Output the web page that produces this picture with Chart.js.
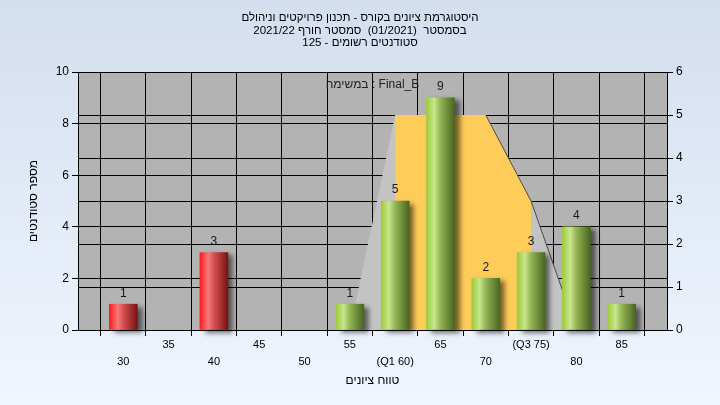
<!DOCTYPE html>
<html><head><meta charset="utf-8">
<script src="https://cdn.jsdelivr.net/npm/chart.js@4/dist/chart.umd.min.js"></script>
<style>html,body{margin:0;padding:0;background:#e6edf8}#wrap{width:720px;height:405px;position:relative}</style>
</head><body><div id="wrap"><canvas id="c" width="720" height="405"></canvas></div>
<script>
// ---- data ----
const categories = [30, 35, 40, 45, 50, 55, 60, 65, 70, 75, 80, 85];
const counts     = [1, 0, 3, 0, 0, 1, 5, 9, 2, 3, 4, 1];
const axisEnds   = [25, 90];
const specialTicks = {60: '(Q1 60)', 75: '(Q3 75)'};
const curveCats  = [55, 60, 65, 70, 75, 80];
const curveVals  = [0, 5, 5, 5, 3, 0];
const q1 = 60, q3 = 75;
const passMark = 55;
const titleLines = [
  'היסטוגרמת ציונים בקורס - תכנון פרויקטים וניהולם',
  'בסמסטר  (01/2021)  סמסטר חורף 2021/22',
  'סטודנטים רשומים - 125'
];
const xTitle = 'טווח ציונים';
const yTitle = 'מספר סטודנטים';
const legendText = 'במשימה : Final_B';

// ---- build ----
const axisVals = [axisEnds[0], ...categories, axisEnds[1]];
const labels = axisVals.map(String);
const barData = axisVals.map(v => { const i = categories.indexOf(v); return (i >= 0 && counts[i] > 0) ? counts[i] : null; });
const curveData = axisVals.map(v => { const i = curveCats.indexOf(v); return i >= 0 ? curveVals[i] : null; });
const iqrData = axisVals.map((v, k) => (v >= q1 && v <= q3) ? curveData[k] : null);

const FONT = "'Liberation Sans', Arial, sans-serif";
const BARW = 28;

function makeGrad(c, x, idx) {
  const g = c.createLinearGradient(x - BARW / 2, 0, x + BARW / 2, 0);
  if (axisVals[idx] < passMark) {
    g.addColorStop(0, '#ff1a1a'); g.addColorStop(0.3, '#f47a7a'); g.addColorStop(0.5, '#d85050'); g.addColorStop(1, '#761212');
  } else {
    g.addColorStop(0, '#9ccb3a'); g.addColorStop(0.28, '#c8e68e'); g.addColorStop(0.5, '#93b455'); g.addColorStop(1, '#4a6620');
  }
  return g;
}

const bgPlugin = {
  id: 'bg',
  beforeDraw(chart) {
    const c = chart.ctx, a = chart.chartArea;
    c.save();
    const g = c.createLinearGradient(0, 0, 0, chart.height);
    g.addColorStop(0, '#d3deef'); g.addColorStop(1, '#f0f6fe');
    c.fillStyle = g; c.fillRect(0, 0, chart.width, chart.height);
    c.fillStyle = '#b3b3b3'; c.fillRect(a.left, a.top, a.right - a.left, a.bottom - a.top);
    c.restore();
  }
};
const shadowPlugin = {
  id: 'shadow',
  beforeDatasetDraw(chart, args) {
    if (args.meta.type === 'bar') {
      const c = chart.ctx;
      args.meta.data.forEach((el, i) => {
        if (isFinite(el.x)) el.options = Object.assign({}, el.options, { backgroundColor: makeGrad(c, el.x, i) });
      });
      c.save(); c.shadowColor = 'rgba(0,0,0,0.55)'; c.shadowBlur = 5; c.shadowOffsetX = 5; c.shadowOffsetY = 3;
    }
  },
  afterDatasetDraw(chart, args) { if (args.meta.type === 'bar') chart.ctx.restore(); }
};
const labelPlugin = {
  id: 'labels',
  afterDatasetsDraw(chart) {
    const c = chart.ctx;
    c.save();
    c.font = '12px ' + FONT; c.fillStyle = '#1a1a1a'; c.textAlign = 'center'; c.textBaseline = 'middle';
    chart.data.datasets.forEach((ds, di) => {
      if (ds.type !== 'bar') return;
      chart.getDatasetMeta(di).data.forEach((el, i) => {
        if (ds.data[i] == null) return;
        c.fillText(String(ds.data[i]), el.x, el.y - 11);
      });
    });
    const a = chart.chartArea;
    c.fillStyle = '#222';
    c.fillText(legendText, (a.left + a.right) / 2, a.top + 13);
    c.restore();
  }
};

new Chart(document.getElementById('c'), {
  data: {
    labels,
    datasets: [
      { type: 'bar', data: barData, yAxisID: 'y', order: 0, barThickness: BARW, backgroundColor: '#9ccb3a', borderWidth: 0, clip: false },
      { type: 'line', data: curveData, yAxisID: 'y1', order: 1, fill: false, borderWidth: 1, pointRadius: 0, tension: 0,
        borderColor: '#444',
        segment: { borderColor: s => axisVals[s.p0DataIndex] >= 70 ? '#4a4a4a' : 'rgba(0,0,0,0)' } },
      { type: 'line', data: iqrData, yAxisID: 'y1', order: 2, fill: 'origin', backgroundColor: '#fecc58', borderWidth: 0, pointRadius: 0, tension: 0 },
      { type: 'line', data: curveData, yAxisID: 'y1', order: 3, fill: 'origin', backgroundColor: '#c3c3c3', borderWidth: 0, pointRadius: 0, tension: 0 }
    ]
  },
  options: {
    responsive: false, animation: false, devicePixelRatio: 1,
    layout: { padding: 0 },
    plugins: {
      legend: { display: false }, tooltip: { enabled: false },
      title: { display: true, text: titleLines, color: '#000', font: { family: FONT, size: 11.5, weight: 'normal', lineHeight: '12.5px' }, padding: { top: 12, bottom: 22.5 } }
    },
    scales: {
      x: {
        type: 'category', offset: false,
        grid: { color: '#000', lineWidth: 1, tickLength: 6, tickColor: '#000' },
        border: { color: '#000' },
        ticks: {
          autoSkip: false, maxRotation: 0, minRotation: 0, padding: 0, color: '#000',
          font: { family: FONT, size: 11, lineHeight: '17px' },
          callback: function (v, i) {
            const n = axisVals[i];
            if (n === axisEnds[0] || n === axisEnds[1]) return '';
            const t = specialTicks[n] || String(n);
            return (n % 10 === 0) ? ['', t] : [t];
          }
        },
        title: { display: true, text: xTitle, color: '#000', font: { family: FONT, size: 12 }, padding: { top: 0, bottom: 16.8 } },
        afterFit(s) { s.height = 75; }
      },
      y: {
        position: 'left', min: 0, max: 10,
        ticks: { stepSize: 2, color: '#000', padding: 3, font: { family: FONT, size: 12 } },
        grid: { color: '#000', tickLength: 6, tickColor: '#000' },
        border: { color: '#000' },
        title: { display: true, text: yTitle, color: '#000', font: { family: FONT, size: 12 }, padding: { top: 26, bottom: 0 } },
        afterFit(s) { s.width = 78; }
      },
      y1: {
        position: 'right', min: 0, max: 6,
        ticks: { stepSize: 1, color: '#000', padding: 3, font: { family: FONT, size: 12 } },
        grid: { color: '#000', tickLength: 6, tickColor: '#000' },
        border: { color: '#000' },
        afterFit(s) { s.width = 53; }
      }
    }
  },
  plugins: [bgPlugin, shadowPlugin, labelPlugin]
});
</script>
</body></html>
